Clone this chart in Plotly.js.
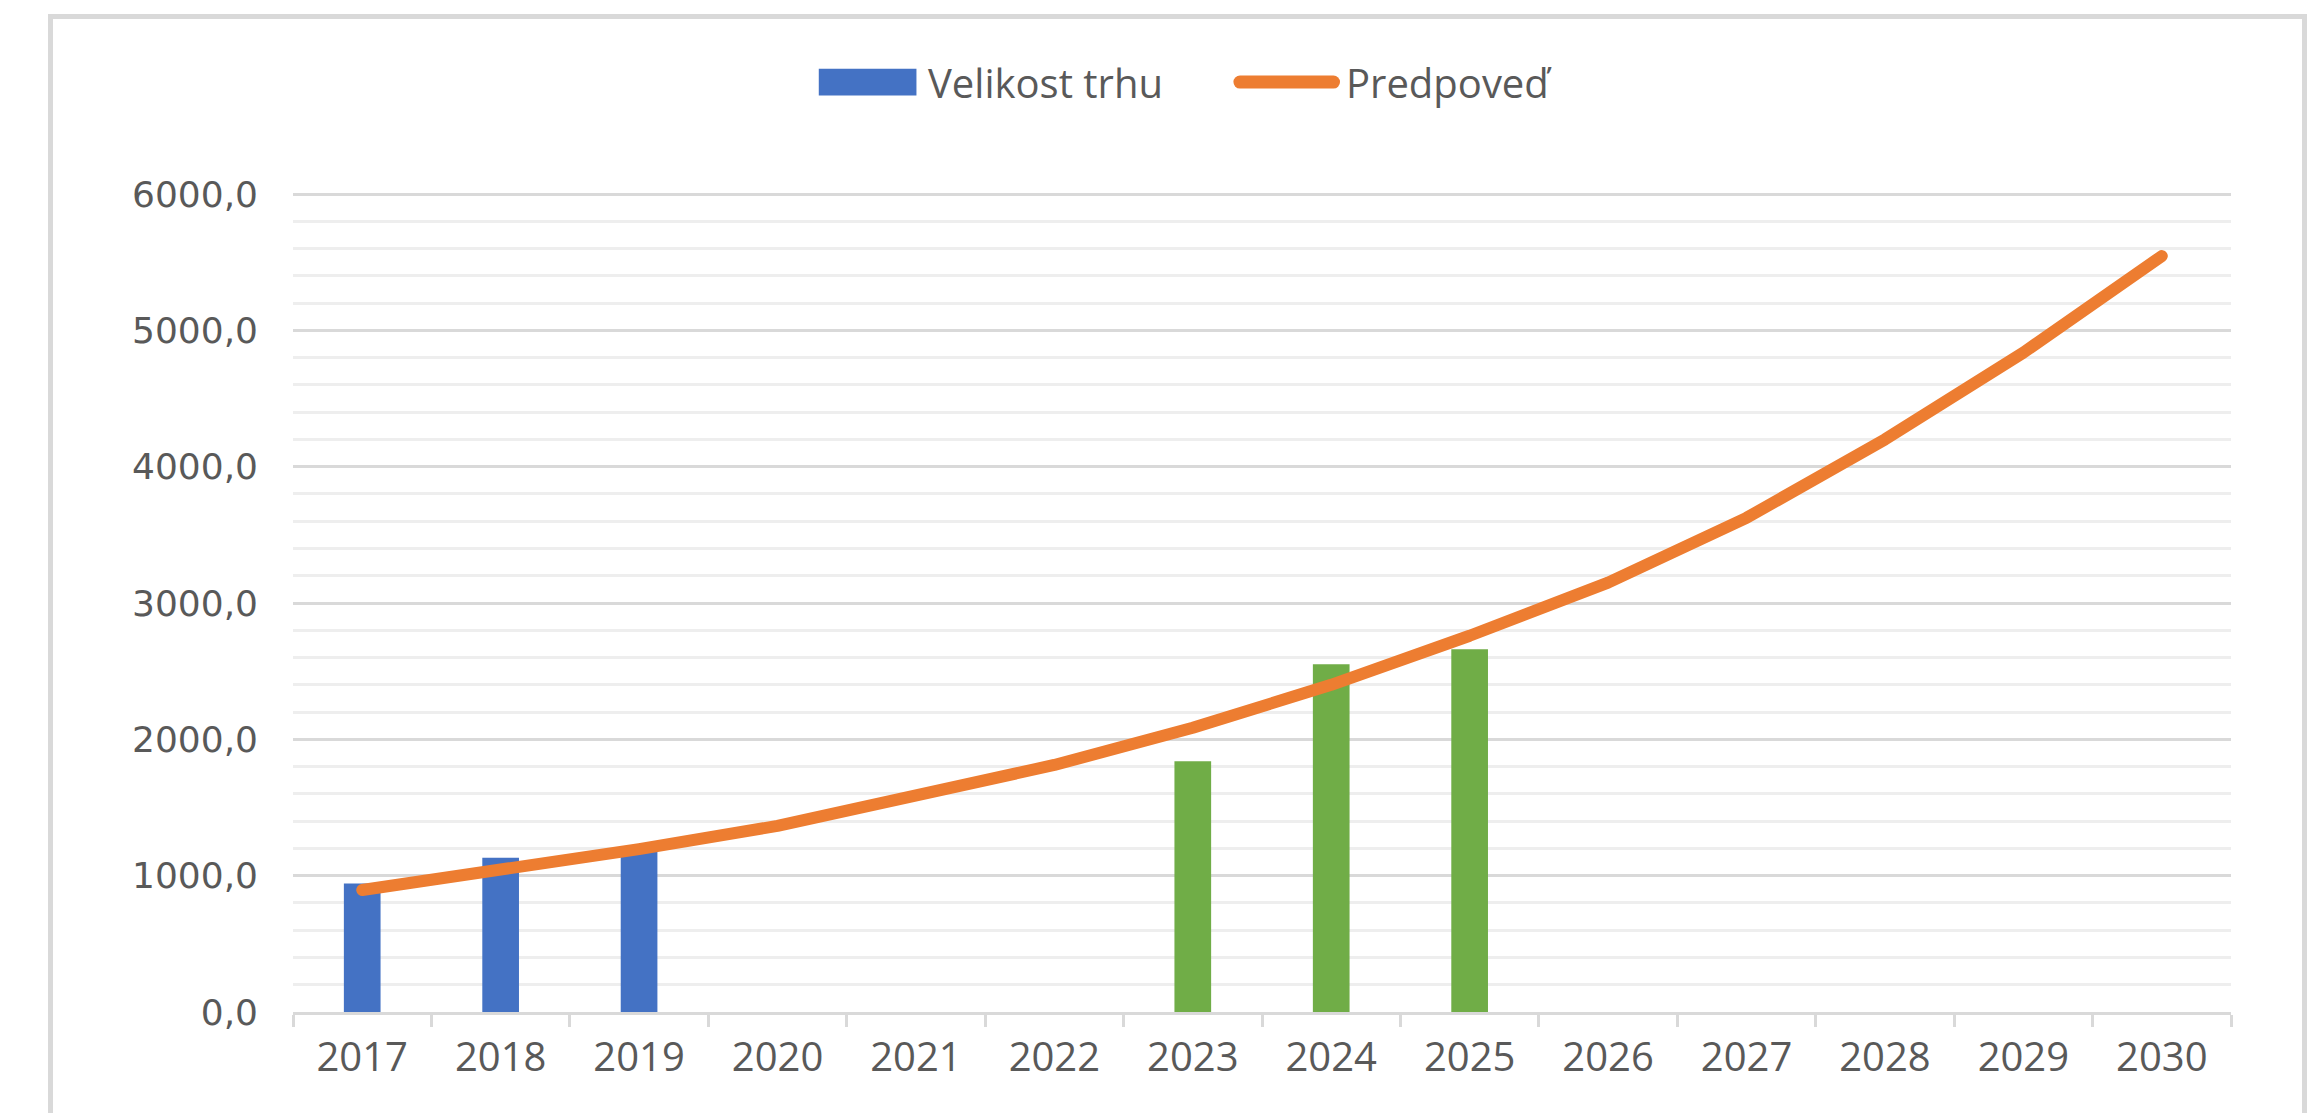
<!DOCTYPE html>
<html>
<head>
<meta charset="utf-8">
<script src="https://cdn.plot.ly/plotly-3.0.1.min.js"></script>
<style>
  html, body { margin: 0; padding: 0; background: #ffffff; overflow: hidden; }
  #chart { position: absolute; left: 0; top: 0; width: 2321px; height: 1113px; }
  #frame { position: absolute; left: 48px; top: 14px; width: 2259px; height: 1300px;
           border: 5px solid #d9d9d9; box-sizing: border-box; pointer-events: none; }
  .scatterlayer path.js-line, .shapelayer path { stroke-linecap: round; stroke-linejoin: round; }
</style>
</head>
<body>
<div id="chart"></div>
<div id="frame"></div>
<script>
// ---- data ----
const years = ['2017','2018','2019','2020','2021','2022','2023','2024','2025','2026','2027','2028','2029','2030'];
const marketSize = [943, 1132, 1180, null, null, null, 1840, 2550, 2660, null, null, null, null, null];
const forecast = [895, 1042, 1195, 1365, 1585, 1812, 2085, 2400, 2760, 3150, 3625, 4200, 4837, 5545];
const highlightedYears = ['2023', '2024', '2025'];
const seriesNames = ['Velikost trhu', 'Predpoveď'];

const BLUE = '#4472C4', GREEN = '#70AD47', ORANGE = '#ED7D31', TEXT = '#595959';
const barColors = years.map(y => highlightedYears.includes(y) ? GREEN : BLUE);

const traces = [
  {
    type: 'bar', name: seriesNames[0], x: years, y: marketSize,
    marker: { color: barColors, line: { width: 0 } },
    width: 0.265, showlegend: false, hoverinfo: 'x+y'
  },
  {
    type: 'scatter', mode: 'lines', name: seriesNames[1], x: years, y: forecast,
    line: { color: ORANGE, width: 12, shape: 'linear' },
    showlegend: false, hoverinfo: 'x+y'
  }
];

// legend drawn in paper coordinates (plot area: x 292.5..2231.5, y ~192..1012 px)
const layout = {
  width: 2321, height: 1113,
  margin: { l: 292.5, r: 89.5, t: 192, b: 101, pad: 0 },
  paper_bgcolor: 'rgba(0,0,0,0)', plot_bgcolor: 'rgba(0,0,0,0)',
  barmode: 'overlay',
  separators: ', ',
  font: { family: '"Open Sans", sans-serif', color: TEXT },
  xaxis: {
    type: 'category',
    showgrid: false, zeroline: false,
    showline: true, linecolor: '#d9d9d9', linewidth: 3,
    ticks: 'outside', tickson: 'boundaries', ticklen: 12, tickwidth: 3, tickcolor: '#d9d9d9',
    tickfont: { family: '"Open Sans", sans-serif', size: 40, color: TEXT },
    ticklabelstandoff: 8
  },
  yaxis: {
    range: [0, 6015], dtick: 1000, tick0: 0,
    tickformat: '.1f',
    showgrid: true, gridcolor: '#d9d9d9', gridwidth: 3,
    zeroline: false, showline: false, ticks: '',
    tickfont: { family: '"DejaVu Sans", Verdana, sans-serif', size: 36, color: TEXT },
    ticklabelstandoff: 34,
    minor: { dtick: 200, tick0: 0, showgrid: true, gridcolor: '#eeeeee', gridwidth: 3 }
  },
  shapes: [
    { type: 'rect', xref: 'paper', yref: 'paper', x0: 0.2713, x1: 0.3217, y0: 1.1177, y1: 1.1504,
      fillcolor: BLUE, line: { width: 0 } },
    { type: 'line', xref: 'paper', yref: 'paper', x0: 0.4886, x1: 0.5369, y0: 1.134, y1: 1.134,
      line: { color: ORANGE, width: 13 } }
  ],
  annotations: [
    { xref: 'paper', yref: 'paper', x: 0.3265, y: 1.134, xanchor: 'left', yanchor: 'middle',
      text: seriesNames[0], showarrow: false,
      font: { family: '"Open Sans", sans-serif', size: 40, color: TEXT } },
    { xref: 'paper', yref: 'paper', x: 0.5425, y: 1.134, xanchor: 'left', yanchor: 'middle',
      text: seriesNames[1], showarrow: false,
      font: { family: '"Open Sans", sans-serif', size: 40, color: TEXT } }
  ]
};

Plotly.newPlot('chart', traces, layout, { displayModeBar: false, staticPlot: true });
</script>
</body>
</html>
